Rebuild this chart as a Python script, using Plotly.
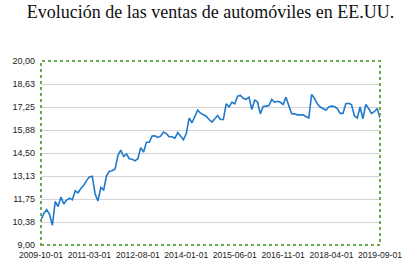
import pandas as pd
import plotly.graph_objects as go

dates = pd.date_range("2009-10-01", periods=120, freq="MS").strftime("%Y-%m-%d").tolist()

sales = [
    10.50, 10.89, 11.11, 10.83, 10.18, 11.60, 11.30, 11.86, 11.45, 11.69,
    11.80, 11.70, 12.24, 12.12, 12.38, 12.57, 12.85, 13.08, 13.10, 12.05,
    11.64, 12.44, 12.29, 13.13, 13.41, 13.44, 13.54, 14.35, 14.67, 14.29,
    14.44, 14.16, 14.13, 14.03, 14.16, 14.82, 14.55, 15.14, 15.14, 15.51,
    15.53, 15.43, 15.51, 15.75, 15.66, 15.47, 15.47, 15.38, 15.72, 15.47,
    15.29, 15.66, 16.59, 16.31, 16.73, 17.06, 16.88, 16.79, 16.70, 16.50,
    16.35, 16.55, 16.74, 16.50, 16.50, 17.44, 17.25, 17.53, 17.44, 17.90,
    17.94, 17.77, 17.71, 17.84, 17.10, 17.66, 17.56, 16.84, 17.28, 17.30,
    17.33, 17.71, 17.53, 17.59, 17.53, 17.40, 17.84, 17.33, 16.85, 16.84,
    16.78, 16.78, 16.78, 16.68, 16.59, 18.00, 17.77, 17.44, 17.25, 17.16,
    17.06, 17.25, 17.30, 17.28, 17.16, 16.87, 16.87, 17.44, 17.47, 17.40,
    16.73, 16.59, 17.25, 16.55, 17.40, 17.16, 16.87, 16.97, 17.16, 16.59,
]

y_ticks = [9.0, 10.375, 11.75, 13.125, 14.5, 15.875, 17.25, 18.625, 20.0]
y_labels = ["9,00", "10,38", "11,75", "13,13", "14,50", "15,88", "17,25", "18,63", "20,00"]
x_ticks = ["2009-10-01", "2011-03-01", "2012-08-01", "2014-01-01",
           "2015-06-01", "2016-11-01", "2018-04-01", "2019-09-01"]

fig = go.Figure()
fig.add_trace(go.Scatter(
    x=dates, y=sales, mode="lines",
    line=dict(color="#1f7acb", width=1.6),
    hoverinfo="skip",
))

fig.update_layout(
    width=414, height=272,
    margin=dict(l=32, r=25, t=61, b=15),
    paper_bgcolor="white", plot_bgcolor="white",
    showlegend=False,
    title=dict(
        text="Evolución de las ventas de automóviles en EE.UU.",
        font=dict(family="Liberation Serif", size=18, color="#111111"),
        x=0.5, xanchor="center", xref="paper",
        y=1 - 12 / 272, yanchor="middle", yref="container",
    ),
    xaxis=dict(
        type="category", range=[0, 119],
        tickmode="array", tickvals=x_ticks, ticktext=x_ticks,
        showgrid=False, zeroline=False, showline=False, ticks="",
        tickangle=0,
        tickfont=dict(family="Liberation Sans", size=8.6, color="#222222"),
        ticklabelstandoff=3,
    ),
    yaxis=dict(
        range=[9, 20], tickmode="array", tickvals=y_ticks, ticktext=y_labels,
        showgrid=True, gridcolor="#d4d4d4", gridwidth=1,
        zeroline=False, showline=False, ticks="",
        tickfont=dict(family="Liberation Sans", size=9, color="#222222"),
        ticklabelstandoff=5,
    ),
)

fig.add_shape(
    type="rect", xref="paper", yref="paper", x0=0, x1=1, y0=0, y1=1,
    line=dict(color="#6aa84f", width=2, dash="dot"),
    fillcolor="rgba(0,0,0,0)", layer="above",
)

fig.write_html("out.html")
